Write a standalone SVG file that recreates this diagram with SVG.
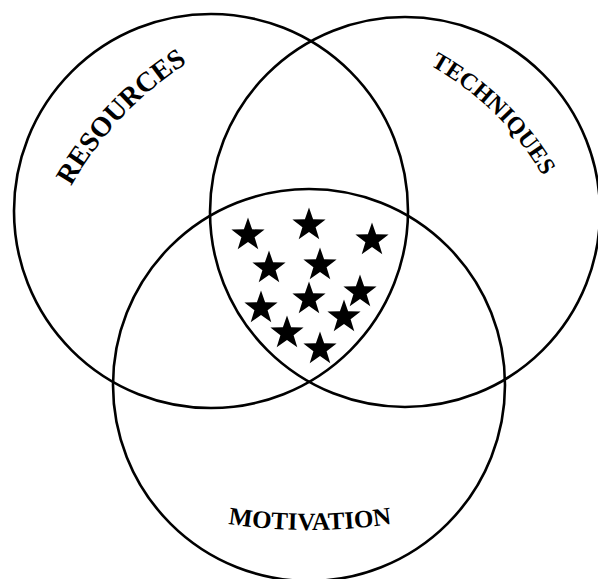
<svg xmlns="http://www.w3.org/2000/svg" xmlns:xlink="http://www.w3.org/1999/xlink" width="598" height="579" viewBox="0 0 598 579">
  <style>
    .ring { fill: none; stroke: #000; stroke-width: 2.6; }
    .lbl { font-family: "Liberation Serif", "Times New Roman", serif; font-weight: bold; fill: #000; }
    .star { fill: #000; }
  </style>
  <defs>
    <path id="star" d="M0,-17.5 L4.1,-5.7 L16.6,-5.4 L6.6,2.2 L10.3,14.2 L0,7 L-10.3,14.2 L-6.6,2.2 L-16.6,-5.4 L-4.1,-5.7 Z"/>
    <path id="arcRes" d="M43.9,247.5 A350,350 0 0,1 247.2,32.5" fill="none"/>
    <path id="arcTech" d="M358.6,36.9 A300,300 0 0,1 572.9,246.8" fill="none"/>
    <path id="arcMot" d="M150,506.2 A550,550 0 0,0 470,506.2" fill="none"/>
  </defs>
  <rect width="598" height="579" fill="#fff"/>

  <g id="resources">
    <circle class="ring" cx="211" cy="211" r="197"/>
    <text class="lbl" font-size="28"><textPath xlink:href="#arcRes" href="#arcRes" startOffset="50%" text-anchor="middle">RESOURCES</textPath></text>
  </g>

  <g id="techniques">
    <circle class="ring" cx="405" cy="212" r="195"/>
    <text class="lbl" font-size="24"><textPath xlink:href="#arcTech" href="#arcTech" startOffset="50%" text-anchor="middle">TECHNIQUES</textPath></text>
  </g>

  <g id="motivation">
    <circle class="ring" cx="309" cy="385" r="196"/>
    <text class="lbl" font-size="25"><textPath xlink:href="#arcMot" href="#arcMot" startOffset="50%" text-anchor="middle">MOTIVATION</textPath></text>
  </g>

  <g id="stars" class="star">
    <use href="#star" xlink:href="#star" x="248" y="235"/>
    <use href="#star" xlink:href="#star" x="309" y="225"/>
    <use href="#star" xlink:href="#star" x="372" y="240"/>
    <use href="#star" xlink:href="#star" x="269" y="268"/>
    <use href="#star" xlink:href="#star" x="320" y="265"/>
    <use href="#star" xlink:href="#star" x="360" y="292"/>
    <use href="#star" xlink:href="#star" x="261" y="308"/>
    <use href="#star" xlink:href="#star" x="309" y="299"/>
    <use href="#star" xlink:href="#star" x="344" y="317"/>
    <use href="#star" xlink:href="#star" x="287" y="333"/>
    <use href="#star" xlink:href="#star" x="320" y="349"/>
  </g>
</svg>
